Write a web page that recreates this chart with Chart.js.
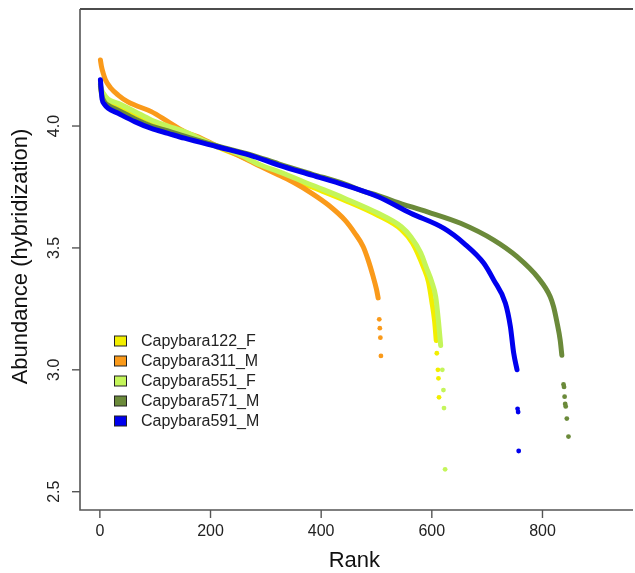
<!DOCTYPE html>
<html>
<head>
<meta charset="utf-8">
<script src="https://cdn.jsdelivr.net/npm/chart.js@4.4.0/dist/chart.umd.min.js"></script>
<style>
  body { margin: 0; background: #fff; }
</style>
</head>
<body>
<canvas id="chart" width="635" height="573"></canvas>
<script>
// series labels and colours (legend order)
const seriesNames = ['Capybara122_F', 'Capybara311_M', 'Capybara551_F', 'Capybara571_M', 'Capybara591_M'];
const seriesColors = ['#F2EE00', '#FA9A1A', '#C4F55A', '#6B8A3A', '#0000EE'];

// tick labels
const xTicks = [0, 200, 400, 600, 800];
const yTicks = [2.5, 3.0, 3.5, 4.0];

// Capybara122_F
const rank122 = [1, 3, 8, 33, 63, 93, 123, 153, 200, 250, 323, 383, 443, 503, 545, 565, 585, 594, 600, 605, 608];
const abund122 = [4.16, 4.14, 4.12, 4.085, 4.05, 4.02, 3.995, 3.972, 3.925, 3.88, 3.805, 3.75, 3.695, 3.633, 3.575, 3.52, 3.42, 3.36, 3.28, 3.2, 3.12];
const tailRank122 = [609, 611, 612, 613];
const tailAbund122 = [3.068, 3.0, 2.965, 2.887];

// Capybara311_M
const rank311 = [1, 3, 6, 10, 20, 33, 50, 63, 93, 123, 153, 183, 210, 250, 290, 323, 353, 383, 413, 443, 461, 476, 485, 494, 500, 503];
const abund311 = [4.271, 4.243, 4.217, 4.19, 4.155, 4.127, 4.10, 4.086, 4.059, 4.018, 3.977, 3.95, 3.92, 3.88, 3.835, 3.799, 3.765, 3.724, 3.676, 3.614, 3.56, 3.505, 3.45, 3.382, 3.33, 3.295];
const tailRank311 = [505, 506, 507, 508];
const tailAbund311 = [3.207, 3.171, 3.132, 3.057];

// Capybara551_F
const rank551 = [1, 3, 6, 15, 33, 63, 93, 123, 153, 200, 250, 290, 323, 383, 443, 503, 545, 562, 580, 590, 600, 607, 612, 616];
const abund551 = [4.176, 4.15, 4.135, 4.11, 4.093, 4.06, 4.025, 4.0, 3.977, 3.928, 3.885, 3.84, 3.813, 3.758, 3.703, 3.642, 3.587, 3.546, 3.48, 3.42, 3.36, 3.30, 3.2, 3.1];
const tailRank551 = [619, 621, 622, 624];
const tailAbund551 = [3.0, 2.917, 2.843, 2.592];

// Capybara571_M
const rank571 = [1, 3, 8, 15, 33, 63, 93, 123, 153, 212, 272, 323, 383, 443, 473, 503, 533, 592, 652, 712, 754, 793, 814, 820, 826, 832, 835];
const abund571 = [4.17, 4.13, 4.1, 4.085, 4.065, 4.03, 4.0, 3.98, 3.958, 3.918, 3.883, 3.845, 3.803, 3.762, 3.735, 3.715, 3.69, 3.648, 3.601, 3.532, 3.464, 3.375, 3.30, 3.259, 3.197, 3.122, 3.06];
const tailRank571 = [838, 839, 840, 841, 842, 844, 847];
const tailAbund571 = [2.94, 2.93, 2.89, 2.86, 2.85, 2.80, 2.726];

// Capybara591_M
const rank591 = [1, 2, 3, 4, 8, 15, 33, 63, 93, 123, 153, 212, 272, 323, 383, 443, 503, 562, 622, 658, 694, 712, 733, 742, 748, 754];
const abund591 = [4.19, 4.16, 4.135, 4.11, 4.09, 4.073, 4.052, 4.018, 3.99, 3.97, 3.95, 3.915, 3.88, 3.84, 3.799, 3.758, 3.71, 3.642, 3.58, 3.519, 3.437, 3.368, 3.273, 3.177, 3.068, 3.0];
const tailRank591 = [755, 756, 757];
const tailAbund591 = [2.84, 2.827, 2.667];

const curves = [[rank122, abund122], [rank311, abund311], [rank551, abund551], [rank571, abund571], [rank591, abund591]];
const tails = [[tailRank122, tailAbund122], [tailRank311, tailAbund311], [tailRank551, tailAbund551], [tailRank571, tailAbund571], [tailRank591, tailAbund591]];

function toPoints(xs, ys) {
  return xs.map((x, i) => ({ x: x, y: ys[i] }));
}

const datasets = [];
seriesNames.forEach((name, i) => {
  // later series are plotted on top, like the original
  const order = seriesNames.length - 1 - i;
  datasets.push({
    label: name,
    data: toPoints(curves[i][0], curves[i][1]),
    showLine: true,
    borderColor: seriesColors[i],
    backgroundColor: seriesColors[i],
    borderWidth: 5,
    borderCapStyle: 'round',
    borderJoinStyle: 'round',
    cubicInterpolationMode: 'monotone',
    pointRadius: 0,
    order: order
  });
  datasets.push({
    label: name + ' tail',
    data: toPoints(tails[i][0], tails[i][1]),
    showLine: false,
    backgroundColor: seriesColors[i],
    borderWidth: 0,
    pointRadius: 2.4,
    order: order
  });
});

const FONT = '"Liberation Sans", Arial, Helvetica, sans-serif';

// axes, box, labels and legend drawn the way base R does it
const rPlotDecor = {
  id: 'rPlotDecor',
  beforeDatasetsDraw(chart) {
    const { ctx, chartArea: a } = chart;
    ctx.save();
    ctx.lineWidth = 1.6;
    ctx.strokeStyle = '#111';
    ctx.beginPath();
    ctx.moveTo(a.left, a.top);
    ctx.lineTo(a.right + 2, a.top);
    ctx.stroke();
    ctx.strokeStyle = '#555';
    ctx.beginPath();
    ctx.moveTo(a.left, a.top);
    ctx.lineTo(a.left, a.bottom);
    ctx.lineTo(a.right + 2, a.bottom);
    ctx.stroke();
    ctx.restore();
  },
  afterDraw(chart) {
    const { ctx, chartArea: a, scales } = chart;
    const xs = scales.x, ys = scales.y;
    ctx.save();
    ctx.strokeStyle = '#555';
    ctx.lineWidth = 1.4;
    ctx.fillStyle = '#222';
    ctx.font = '16px ' + FONT;

    // x ticks
    ctx.textAlign = 'center';
    ctx.textBaseline = 'middle';
    xTicks.forEach(t => {
      const px = xs.getPixelForValue(t);
      ctx.beginPath();
      ctx.moveTo(px, a.bottom);
      ctx.lineTo(px, a.bottom + 8);
      ctx.stroke();
      ctx.fillText(String(t), px, a.bottom + 22);
    });

    // y ticks, labels turned parallel to the axis
    yTicks.forEach(t => {
      const py = ys.getPixelForValue(t);
      ctx.beginPath();
      ctx.moveTo(a.left, py);
      ctx.lineTo(a.left - 8, py);
      ctx.stroke();
      ctx.save();
      ctx.translate(a.left - 25, py);
      ctx.rotate(-Math.PI / 2);
      ctx.fillText(t.toFixed(1), 0, 0);
      ctx.restore();
    });

    // axis titles
    ctx.fillStyle = '#111';
    ctx.font = '22px ' + FONT;
    ctx.fillText('Rank', xs.getPixelForValue(460), 561);
    ctx.save();
    ctx.translate(21, (a.top + a.bottom) / 2 - 3);
    ctx.rotate(-Math.PI / 2);
    ctx.fillText('Abundance (hybridization)', 0, 0);
    ctx.restore();

    // legend
    ctx.font = '16px ' + FONT;
    ctx.textAlign = 'left';
    seriesNames.forEach((name, i) => {
      const cy = 341 + i * 20;
      ctx.fillStyle = seriesColors[i];
      ctx.fillRect(114.5, cy - 5, 12, 10);
      ctx.strokeStyle = '#222';
      ctx.lineWidth = 1;
      ctx.strokeRect(114.5, cy - 5, 12, 10);
      ctx.fillStyle = '#222';
      ctx.fillText(name, 141, cy + 1);
    });
    ctx.restore();
  }
};

new Chart(document.getElementById('chart'), {
  type: 'scatter',
  data: { datasets: datasets },
  options: {
    responsive: false,
    animation: false,
    devicePixelRatio: 1,
    layout: { padding: { left: 80, top: 9, right: 0, bottom: 63 } },
    plugins: {
      legend: { display: false },
      tooltip: { enabled: false }
    },
    scales: {
      x: { type: 'linear', min: -35.9, max: 960, display: false },
      y: { type: 'linear', min: 2.425, max: 4.48, display: false }
    }
  },
  plugins: [rPlotDecor]
});
</script>
</body>
</html>
